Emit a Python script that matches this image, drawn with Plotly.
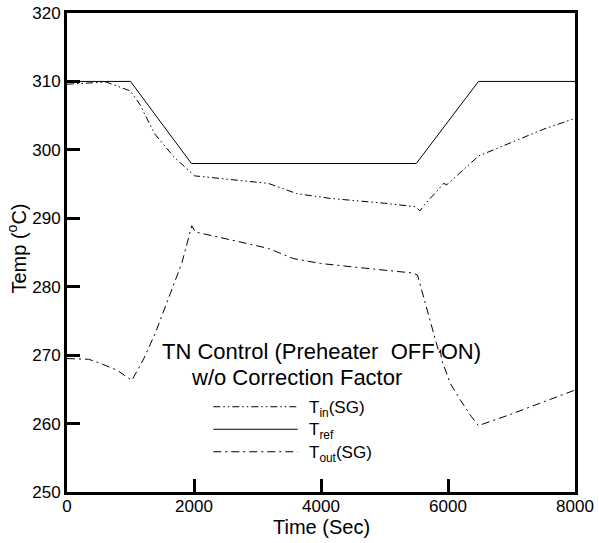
import plotly.graph_objects as go

# ---- data ----
t_ref = [0, 1000, 1960, 5500, 6480, 8000]
T_ref = [310, 310, 298, 298, 310, 310]

t_in = [0, 300, 620, 1000, 1150, 1375, 1680, 2010, 2500, 3170, 3620, 4150,
        5000, 5480, 5560, 5640, 5820, 5930, 5980, 6030, 6480, 6980, 7500, 8000]
T_in = [309.6, 309.7, 309.9, 308.6, 306.6, 302.4, 299.0, 296.2, 295.7, 295.1,
        293.6, 292.9, 292.2, 291.7, 291.1, 292.1, 293.9, 295.1, 294.9, 295.3,
        299.1, 301.0, 303.0, 304.6]

t_out = [0, 340, 525, 790, 1020, 1200, 1390, 1630, 1810, 1965, 2020, 2600,
         3170, 3570, 3990, 4700, 5450, 5520, 5800, 5860, 5875, 5900, 6040,
         6190, 6370, 6480, 7000, 7500, 8000]
T_out = [269.5, 269.4, 268.8, 267.8, 266.3, 269.3, 273.2, 279.0, 283.5, 288.9,
         288.0, 286.8, 285.6, 284.1, 283.4, 282.7, 282.0, 281.7, 272.2, 270.3,
         271.0, 269.3, 265.8, 263.5, 261.0, 259.7, 261.4, 263.1, 264.9]

x_ticks = [0, 2000, 4000, 6000, 8000]
y_ticks = [250, 260, 270, 280, 290, 300, 310, 320]

title_line1 = "TN Control (Preheater\u00a0\u00a0OFF\u00a0ON)"
title_line2 = "w/o Correction Factor"
legend_labels = ["T<sub>in</sub>(SG)", "T<sub>ref</sub>", "T<sub>out</sub>(SG)"]

FONT = "Liberation Sans, Arial, Helvetica, sans-serif"
DASH_IN = "7px,3px,1.5px,3px,1.5px,3px"
DASH_OUT = "8px,4px,2px,4px"
styles = [dict(color="black", width=1, dash=DASH_IN),
          dict(color="black", width=1),
          dict(color="black", width=1, dash=DASH_OUT)]

fig = go.Figure()
fig.add_trace(go.Scatter(x=t_in, y=T_in, mode="lines", line=styles[0],
                         name="T_in(SG)", showlegend=False))
fig.add_trace(go.Scatter(x=t_ref, y=T_ref, mode="lines", line=styles[1],
                         name="T_ref", showlegend=False))
fig.add_trace(go.Scatter(x=t_out, y=T_out, mode="lines", line=styles[2],
                         name="T_out(SG)", showlegend=False))

# legend drawn as key lines + labels inside the plot
leg_y = [0.178, 0.131, 0.084]
for lab, st, yy in zip(legend_labels, styles, leg_y):
    fig.add_shape(type="line", xref="paper", yref="paper",
                  x0=0.288, x1=0.454, y0=yy, y1=yy, line=st)
    fig.add_annotation(xref="paper", yref="paper", x=0.472, y=yy - 0.004,
                       text=lab, showarrow=False, xanchor="left",
                       yanchor="middle", font=dict(size=17, color="black", family=FONT))

fig.add_annotation(xref="paper", yref="paper", x=0.183, y=0.294,
                   text=title_line1, showarrow=False, xanchor="left",
                   yanchor="middle", font=dict(size=22, color="black", family=FONT))
fig.add_annotation(xref="paper", yref="paper", x=0.240, y=0.240,
                   text=title_line2, showarrow=False, xanchor="left",
                   yanchor="middle", font=dict(size=22, color="black", family=FONT))

# axis titles
fig.add_annotation(xref="paper", yref="paper", x=0.5, y=-0.073,
                   text="Time (Sec)", showarrow=False, xanchor="center",
                   yanchor="middle", font=dict(size=20, color="black", family=FONT))
fig.add_annotation(xref="paper", yref="paper", x=-0.0997, y=0.509,
                   text="Temp (<sup>o</sup>C)", showarrow=False, textangle=-90,
                   xanchor="center", yanchor="middle",
                   font=dict(size=20, color="black", family=FONT))

axis_common = dict(showgrid=False, zeroline=False, showline=True, linewidth=3,
                   linecolor="black", mirror=True, ticks="inside", ticklen=13,
                   tickwidth=3, tickcolor="black", automargin=False,
                   tickfont=dict(size=17, color="black", family=FONT))

fig.update_xaxes(range=[0, 8000], tickvals=x_ticks, ticklabelstandoff=-3,
                 ticktext=[str(v) for v in x_ticks], **axis_common)
fig.update_yaxes(range=[250, 320], tickvals=y_ticks,
                 ticktext=[str(v) for v in y_ticks], **axis_common)

fig.update_layout(width=599, height=543,
                  margin=dict(l=67, r=24, t=13, b=51, pad=0),
                  paper_bgcolor="white", plot_bgcolor="white",
                  font=dict(family=FONT, color="black"))

fig.write_html("out.html", config={"displayModeBar": False},
               post_script="document.body.style.margin='0';document.body.style.overflow='hidden';")
